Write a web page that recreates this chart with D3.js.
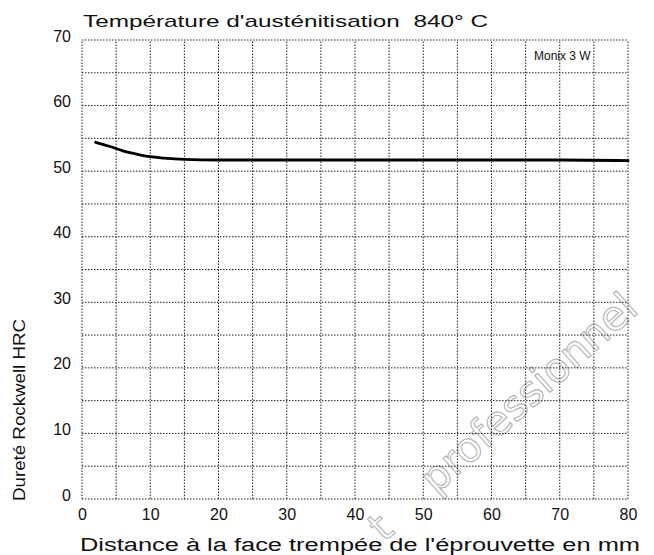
<!DOCTYPE html>
<html><head><meta charset="utf-8">
<script src="https://cdn.jsdelivr.net/npm/d3@7"></script>
<style>html,body{margin:0;padding:0;background:#fff;}svg{display:block;}</style>
</head><body>
<svg id="c" width="654" height="555"></svg>
<script>
const distance = [2, 4, 6, 8, 10, 12, 15, 20, 30, 40, 50, 60, 70, 80];
const hardness = [54.4, 53.8, 53.1, 52.6, 52.2, 52.0, 51.8, 51.7, 51.7, 51.7, 51.7, 51.7, 51.7, 51.6];
const xTicks = [0, 10, 20, 30, 40, 50, 60, 70, 80];
const yTicks = [0, 10, 20, 30, 40, 50, 60, 70];
const xGrid = d3.range(0, 81, 5);
const yGrid = d3.range(0, 71, 5);
const title = "Température d'austénitisation  840° C";
const steel = "Monix 3 W";
const xTitle = "Distance à la face trempée de l'éprouvette en mm";
const yTitle = "Dureté Rockwell HRC";
const watermarkA = "t";
const watermarkB = "professionnel";

const svg = d3.select("#c");
const font = "'Liberation Sans', Arial, sans-serif";
const x = d3.scaleLinear().domain([0, 80]).range([82, 628]);
const y = d3.scaleLinear().domain([0, 70]).range([499, 40]);

// watermark (behind)
const wm = svg.append("g").attr("font-family", "'DejaVu Sans', sans-serif")
  .attr("fill", "#fff").attr("stroke", "#b4b4b4").attr("stroke-width", 1.1)
  .attr("font-size", 41);
wm.append("text").attr("transform", "translate(384,543) rotate(-42)").text(watermarkA);
wm.append("text").attr("transform", "translate(436,495) rotate(-42)").text(watermarkB);

// grid
const g = svg.append("g").attr("stroke", "#222").attr("stroke-width", 1)
  .attr("stroke-dasharray", "1.5,1.5").attr("fill", "none");
g.selectAll("line.v").data(xGrid).join("line")
  .attr("x1", d => x(d)).attr("x2", d => x(d)).attr("y1", y(0)).attr("y2", y(70));
g.selectAll("line.h").data(yGrid).join("line")
  .attr("y1", d => y(d)).attr("y2", d => y(d)).attr("x1", x(0)).attr("x2", x(80));

// axes labels (tick text only)
const xAxis = d3.axisBottom(x).tickValues(xTicks).tickSize(0).tickPadding(10);
const xa = svg.append("g").attr("transform", `translate(0,${y(0)})`).call(xAxis);
xa.select(".domain").remove();
xa.selectAll("text").attr("font-family", font).attr("font-size", 16).attr("fill", "#111");

const yAxis = d3.axisLeft(y).tickValues(yTicks).tickSize(0).tickPadding(11);
const ya = svg.append("g").attr("transform", `translate(${x(0)},-4)`).call(yAxis);
ya.select(".domain").remove();
ya.selectAll("text").attr("font-family", font).attr("font-size", 16).attr("fill", "#111");

// curve
const line = d3.line().x((d, i) => x(distance[i])).y(d => y(d)).curve(d3.curveMonotoneX);
svg.append("path").datum(hardness).attr("d", line)
  .attr("fill", "none").attr("stroke", "#000").attr("stroke-width", 2.8)
  .attr("stroke-linecap", "round");

// texts
svg.append("text").attr("x", 83).attr("y", 27).attr("font-family", font)
  .attr("font-size", 17).attr("fill", "#111").attr("textLength", 405)
  .attr("lengthAdjust", "spacingAndGlyphs").style("white-space", "pre").text(title);
svg.append("text").attr("x", 534).attr("y", 60).attr("font-family", font)
  .attr("font-size", 12).attr("fill", "#111").text(steel);
svg.append("text").attr("x", 80).attr("y", 551).attr("font-family", font)
  .attr("font-size", 18).attr("fill", "#111").attr("textLength", 560)
  .attr("lengthAdjust", "spacingAndGlyphs").text(xTitle);
svg.append("text").attr("transform", "translate(25,410) rotate(-90)")
  .attr("text-anchor", "middle").attr("font-family", font).attr("font-size", 16)
  .attr("fill", "#111").attr("textLength", 182).attr("lengthAdjust", "spacingAndGlyphs")
  .text(yTitle);
</script>
</body></html>
